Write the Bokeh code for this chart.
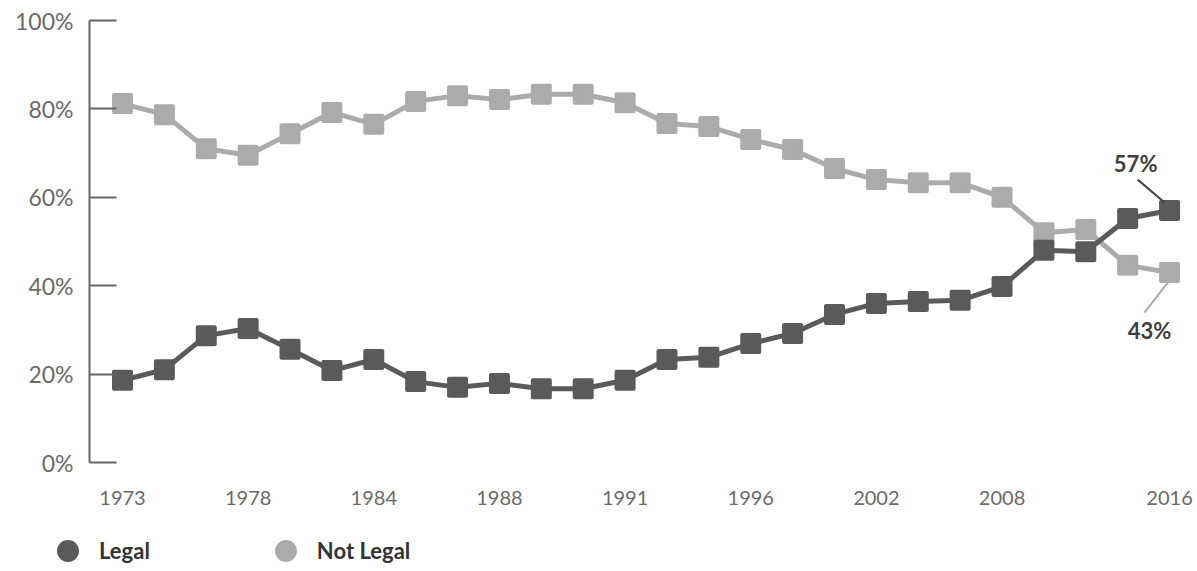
from bokeh.plotting import figure
from bokeh.layouts import column
from bokeh.models import Range1d, FixedTicker, Legend, LegendItem, Label, ColumnDataSource
from bokeh.embed import file_html
from bokeh.resources import INLINE

# ---- data ----
idx = list(range(26))
legal = [18.6, 21.0, 28.7, 30.3, 25.6, 20.8, 23.3, 18.3, 17.0, 17.9, 16.7, 16.7, 18.6,
         23.3, 23.8, 26.9, 29.2, 33.5, 36.0, 36.4, 36.7, 39.8, 48.0, 47.7, 55.2, 57.0]
not_legal = [81.2, 78.7, 71.0, 69.5, 74.4, 79.2, 76.5, 81.7, 83.0, 82.1, 83.3, 83.3, 81.4,
             76.7, 76.0, 73.1, 70.8, 66.5, 64.0, 63.3, 63.3, 60.0, 52.0, 52.7, 44.6, 43.0]
tick_pos = [0, 3, 6, 9, 12, 15, 18, 21, 25]
tick_labels = ["1973", "1978", "1984", "1988", "1991", "1996", "2002", "2008", "2016"]
y_ticks = [0, 20, 40, 60, 80, 100]
y_labels = ["0%", "20%", "40%", "60%", "80%", "100%"]
series_names = ["Legal", "Not Legal"]

DARK = "#5a5a5a"
LIGHT = "#ababab"
FONT = "Lato"

p = figure(width=1197, height=520, output_backend="svg", toolbar_location=None,
           x_range=Range1d(-0.788, 25.5), y_range=Range1d(0, 100),
           min_border_left=89, min_border_right=7, min_border_top=20, min_border_bottom=58)
p.frame_align = False
p.outline_line_color = None
p.grid.visible = False
p.background_fill_color = "white"
p.border_fill_color = "white"

src = ColumnDataSource(dict(x=idx, legal=legal, not_legal=not_legal))

p.line("x", "not_legal", source=src, line_color=LIGHT, line_width=5)
p.scatter("x", "not_legal", source=src, marker="square", size=17, fill_color=LIGHT,
          line_color=LIGHT, line_width=4, line_join="round")
p.line("x", "legal", source=src, line_color=DARK, line_width=5)
p.scatter("x", "legal", source=src, marker="square", size=17, fill_color=DARK,
          line_color=DARK, line_width=4, line_join="round")

# leader lines for end labels
p.segment(x0=[24.24], y0=[64.0], x1=[24.88], y1=[58.8], line_color="#444444", line_width=2)
p.segment(x0=[25.0], y0=[41.2], x1=[24.40], y1=[33.9], line_color=LIGHT, line_width=2)

p.add_layout(Label(x=24.19, y=67.6, text=f"{legal[-1]:.0f}%", text_align="center",
                   text_baseline="middle", text_font=FONT, text_font_size="22px",
                   text_font_style="bold", text_color="#404040"))
p.add_layout(Label(x=24.52, y=29.9, text=f"{not_legal[-1]:.0f}%", text_align="center",
                   text_baseline="middle", text_font=FONT, text_font_size="22px",
                   text_font_style="bold", text_color="#404040"))

# axes
xa = p.xaxis[0]
xa.ticker = FixedTicker(ticks=tick_pos)
xa.major_label_overrides = {pos: lab for pos, lab in zip(tick_pos, tick_labels)}
xa.axis_line_color = None
xa.major_tick_line_color = None
xa.minor_tick_line_color = None
xa.major_label_standoff = 22
xa.major_label_text_font = FONT
xa.major_label_text_font_size = "20px"
xa.major_label_text_color = "#6a6a6a"

ya = p.yaxis[0]
ya.ticker = FixedTicker(ticks=y_ticks)
ya.major_label_overrides = {t: l for t, l in zip(y_ticks, y_labels)}
ya.axis_line_color = "#666666"
ya.axis_line_width = 2
ya.major_tick_line_color = "#666666"
ya.major_tick_line_width = 2
ya.major_tick_in = 27
ya.major_tick_out = 0
ya.minor_tick_line_color = None
ya.major_label_standoff = 16
ya.major_label_text_font = FONT
ya.major_label_text_font_size = "23px"
ya.major_label_text_color = "#6a6a6a"

# legend strip below the chart
lf = figure(width=1197, height=51, output_backend="svg", toolbar_location=None,
            x_axis_location=None, y_axis_location=None,
            x_range=Range1d(0, 1), y_range=Range1d(0, 1),
            min_border=0, min_border_left=0, min_border_right=0,
            min_border_top=0, min_border_bottom=0)
lf.frame_align = False
lf.outline_line_color = None
lf.grid.visible = False
# placeholder points outside the visible range so the legend has glyphs to draw
r_leg = lf.scatter([-5], [-5], marker="circle", size=22, fill_color=DARK, line_color=None)
r_nl = lf.scatter([-5], [-5], marker="circle", size=22, fill_color=LIGHT, line_color=None)
lg = Legend(items=[LegendItem(label=series_names[0], renderers=[r_leg]),
                   LegendItem(label=series_names[1], renderers=[r_nl])],
            location=(40, -7), orientation="horizontal", margin=0, padding=0, spacing=108,
            border_line_color=None, background_fill_alpha=0,
            glyph_width=55, glyph_height=55, label_standoff=4, label_height=22,
            label_text_font=FONT, label_text_font_size="22px",
            label_text_font_style="bold", label_text_color="#333333")
lf.add_layout(lg, "center")

open("out.html", "w").write(file_html(column(p, lf), INLINE))
